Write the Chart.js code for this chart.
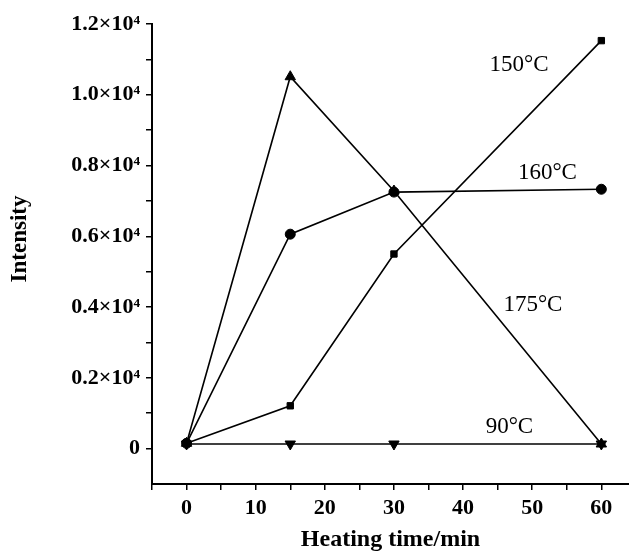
<!DOCTYPE html>
<html>
<head>
<meta charset="utf-8">
<script src="https://cdn.jsdelivr.net/npm/chart.js@4"></script>
<style>
html,body{margin:0;padding:0;background:#fff;}
#wrap{width:629px;height:558px;position:relative;}
</style>
</head>
<body>
<div id="wrap"><canvas id="c" width="629" height="558"></canvas></div>
<script>
const times = [0, 15, 30, 60];
const s150 = [150, 1210, 5500, 11530];
const s160 = [150, 6060, 7250, 7330];
const s175 = [150, 10510, 7280, 130];
const s90  = [130, 130, 130, 130];
const seriesNames = ['150°C', '160°C', '175°C', '90°C'];
const xTicks = [0, 10, 20, 30, 40, 50, 60];
const yTickLabels = {0:'0', 2000:'0.2×10⁴', 4000:'0.4×10⁴', 6000:'0.6×10⁴', 8000:'0.8×10⁴', 10000:'1.0×10⁴', 12000:'1.2×10⁴'};
// label anchor points in data units
const labelAt = [[48.1, 10850], [52.2, 7780], [50.1, 4060], [46.7, 620]];

const pts = arr => times.map((t, i) => ({x: t, y: arr[i]}));
const mk = (name, arr, style, rot, r) => ({
  label: name, data: pts(arr), borderColor: '#000', backgroundColor: '#000',
  borderWidth: 1.6, pointStyle: style, pointRotation: rot || 0, pointRadius: r,
  pointBorderWidth: 1, tension: 0, fill: false, clip: false
});

const serif = '"Liberation Serif", "DejaVu Serif", serif';

const labelPlugin = {
  id: 'labels',
  afterDatasetsDraw(chart) {
    const ctx = chart.ctx, xs = chart.scales.x, ys = chart.scales.y;
    ctx.save();
    ctx.fillStyle = '#000';
    ctx.font = '23px ' + serif;
    ctx.textAlign = 'center'; ctx.textBaseline = 'middle';
    seriesNames.forEach((n, i) => {
      ctx.fillText(n, xs.getPixelForValue(labelAt[i][0]), ys.getPixelForValue(labelAt[i][1]));
    });
    // y title
    ctx.translate(20, 239);
    ctx.rotate(-Math.PI / 2);
    ctx.font = 'bold 23px ' + serif;
    ctx.fillText('Intensity', 0, 0);
    ctx.restore();
  }
};

new Chart(document.getElementById('c'), {
  type: 'line',
  data: { datasets: [
    mk(seriesNames[0], s150, 'rect', 0, 4.5),
    mk(seriesNames[1], s160, 'circle', 0, 5),
    mk(seriesNames[2], s175, 'triangle', 0, 6),
    mk(seriesNames[3], s90, 'triangle', 180, 6)
  ]},
  options: {
    responsive: false, animation: false,
    layout: { autoPadding: false, padding: { top: 24, right: 0, left: 0, bottom: 0 } },
    plugins: { legend: { display: false }, tooltip: { enabled: false } },
    scales: {
      x: {
        type: 'linear', min: -5, max: 64,
        afterFit(s) { s.height = 74; s.paddingLeft = 0; s.paddingRight = 0; },
        afterBuildTicks(s) { const t = []; for (let v = -5; v <= 60; v += 5) t.push({value: v}); s.ticks = t; },
        border: { display: true, color: '#000', width: 2 },
        grid: { display: true, drawOnChartArea: false, drawTicks: true, tickLength: 6, color: '#000', lineWidth: 1.5 },
        ticks: { autoSkip: false, maxRotation: 0, color: '#000', padding: 5,
          font: { family: serif, size: 22, weight: 'bold' },
          callback: v => xTicks.includes(v) ? String(v) : '' },
        title: { display: true, text: 'Heating time/min', color: '#000', padding: {top: 8},
          font: { family: serif, size: 24, weight: 'bold' } }
      },
      y: {
        min: -1000, max: 12000,
        afterFit(s) { s.width = 152; },
        afterBuildTicks(s) { const t = []; for (let v = 0; v <= 12000; v += 1000) t.push({value: v}); s.ticks = t; },
        border: { display: true, color: '#000', width: 2 },
        grid: { display: true, drawOnChartArea: false, drawTicks: true, tickLength: 6, color: '#000', lineWidth: 1.5 },
        ticks: { autoSkip: false, color: '#000', padding: 6,
          font: { family: serif, size: 22, weight: 'bold' },
          callback: v => (v in yTickLabels) ? yTickLabels[v] : '' }
      }
    }
  },
  plugins: [labelPlugin]
});
</script>
</body>
</html>
